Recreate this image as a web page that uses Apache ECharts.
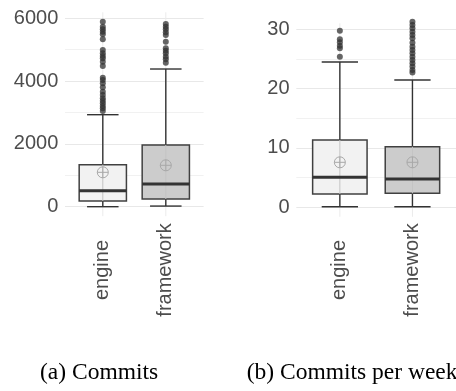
<!DOCTYPE html>
<html>
<head>
<meta charset="utf-8">
<script src="https://cdn.jsdelivr.net/npm/echarts@6/dist/echarts.min.js"></script>
<style>
  html, body { margin: 0; padding: 0; background: #fff; }
  #chart { width: 456px; height: 391px; }
</style>
</head>
<body>
<div id="chart"></div>
<script>
const categories = ['engine', 'framework']
const captions = ['(a) Commits', '(b) Commits per week']

// [lower whisker, Q1, median, Q3, upper whisker]
const commitsStats = [
  [0, 181, 510, 1338, 2930],
  [20, 245, 723, 1965, 4385],
]
const commitsMean = [1095, 1318]
const commitsOutEngine = [5892, 5733, 5649, 5574, 5490, 5330, 4990, 4884, 4799, 4725, 4619, 4481,
  4109, 4035, 3929, 3802, 3664, 3557, 3451, 3377, 3292, 3207, 3133, 3048]
const commitsOutFramework = [5818, 5733, 5649, 5553, 5468, 5256, 5043, 4969, 4884, 4778, 4693, 4587]

const weeklyStats = [
  [0.1, 2.24, 5.05, 11.34, 24.5],
  [0.1, 2.36, 4.77, 10.2, 21.45],
]
const weeklyMean = [7.58, 7.58]
const weeklyOutEngine = [29.77, 28.31, 27.8, 27.24, 26.8, 25.39]
const weeklyOutFramework = [31.29, 30.73, 30.17, 29.6, 29.04, 28.48, 27.75, 27.07, 26.51, 25.95,
  25.39, 24.83, 24.27, 23.71, 23.15, 22.7]

const commitsTicks = [0, 2000, 4000, 6000]
const weeklyTicks = [0, 10, 20, 30]

const chart = echarts.init(document.getElementById('chart'))

function boxData(stats, mean) {
  return stats.map((s, i) => [i + 1, ...s, mean[i]])
}

function outlierData(engine, framework) {
  return engine.map((v) => [1, v]).concat(framework.map((v) => [2, v]))
}

const fills = ['#f2f2f2', '#cccccc']

function renderBox(params, api) {
  const x = api.value(0)
  const unit = api.size([1, 0])[0]
  const half = unit * 0.375
  const cap = unit * 0.25
  const low = api.coord([x, api.value(1)])
  const q1 = api.coord([x, api.value(2)])
  const med = api.coord([x, api.value(3)])
  const q3 = api.coord([x, api.value(4)])
  const high = api.coord([x, api.value(5)])
  const mean = api.coord([x, api.value(6)])
  const cx = low[0]
  const r = 5.5
  const dark = { stroke: '#333', lineWidth: 1.4 }
  return {
    type: 'group',
    children: [
      // vertical grid line through the category
      { type: 'line', shape: { x1: cx, y1: params.coordSys.y - 6, x2: cx, y2: params.coordSys.y + params.coordSys.height + 9.5 }, style: { stroke: '#ebebeb', lineWidth: 1 }, z2: 0 },
      { type: 'line', shape: { x1: cx, y1: q3[1], x2: cx, y2: high[1] }, style: dark, z2: 1 },
      { type: 'line', shape: { x1: cx, y1: low[1], x2: cx, y2: q1[1] }, style: dark, z2: 1 },
      { type: 'line', shape: { x1: cx - cap, y1: high[1], x2: cx + cap, y2: high[1] }, style: dark, z2: 1 },
      { type: 'line', shape: { x1: cx - cap, y1: low[1], x2: cx + cap, y2: low[1] }, style: dark, z2: 1 },
      { type: 'rect', shape: { x: cx - half, y: q3[1], width: half * 2, height: q1[1] - q3[1] }, style: { fill: fills[x - 1], stroke: '#404040', lineWidth: 1.5 }, z2: 2 },
      { type: 'line', shape: { x1: cx, y1: q3[1], x2: cx, y2: q1[1] }, style: { stroke: '#c4c4c4', lineWidth: 1 }, z2: 3 },
      { type: 'line', shape: { x1: cx - half, y1: med[1], x2: cx + half, y2: med[1] }, style: { stroke: '#333', lineWidth: 3 }, z2: 4 },
      { type: 'circle', shape: { cx: cx, cy: mean[1], r: r }, style: { fill: 'none', stroke: '#a8a8a8', lineWidth: 1 }, z2: 5 },
      { type: 'line', shape: { x1: cx - r, y1: mean[1], x2: cx + r, y2: mean[1] }, style: { stroke: '#a8a8a8', lineWidth: 1 }, z2: 5 },
      { type: 'line', shape: { x1: cx, y1: mean[1] - r, x2: cx, y2: mean[1] + r }, style: { stroke: '#a8a8a8', lineWidth: 1 }, z2: 5 },
    ],
  }
}

function xAxisFor(idx, margin) {
  return {
    gridIndex: idx,
    type: 'value',
    min: 0.4,
    max: 2.6,
    axisLine: { show: false },
    axisTick: { show: false },
    splitLine: { show: false },
    axisLabel: {
      customValues: [1, 2],
      formatter: (v) => categories[Math.round(v) - 1],
      rotate: 90,
      align: 'center',
      verticalAlign: 'middle',
      margin: margin,
      fontSize: 20,
      color: '#4d4d4d',
      fontFamily: 'Liberation Sans',
    },
  }
}

function yAxisFor(idx, max, interval, ticks) {
  return {
    gridIndex: idx,
    type: 'value',
    min: 0,
    max: max,
    interval: interval,
    axisLine: { show: false },
    axisTick: { show: false },
    splitLine: { show: true, lineStyle: { color: ['#e8e8e8', '#f1f1f1'], width: 1 } },
    axisLabel: {
      formatter: (v) => (ticks.includes(v) ? String(v) : ''),
      margin: 6.7,
      fontSize: 20,
      color: '#4d4d4d',
      fontFamily: 'Liberation Sans',
    },
  }
}

chart.setOption({
  animation: false,
  grid: [
    { left: 65, width: 138.6, top: 18.3, height: 188.4 },
    { left: 296.3, width: 161.3, top: 29.3, height: 178 },
  ],
  xAxis: [xAxisFor(0, 63.3), xAxisFor(1, 62.7)],
  yAxis: [yAxisFor(0, 6000, 1000, commitsTicks), yAxisFor(1, 30, 5, weeklyTicks)],
  graphic: [
    { type: 'text', left: 40, top: 361, style: { text: captions[0], font: '23.5px "Liberation Serif"', fill: '#000' } },
    { type: 'text', left: 246.7, top: 361, style: { text: captions[1], font: '23.5px "Liberation Serif"', fill: '#000' } },
  ],
  series: [
    {
      type: 'custom', xAxisIndex: 0, yAxisIndex: 0, clip: false,
      renderItem: renderBox, data: boxData(commitsStats, commitsMean),
    },
    {
      type: 'custom', xAxisIndex: 1, yAxisIndex: 1, clip: false,
      renderItem: renderBox, data: boxData(weeklyStats, weeklyMean),
    },
    {
      type: 'scatter', xAxisIndex: 0, yAxisIndex: 0, clip: false, symbolSize: 6,
      itemStyle: { color: '#333', opacity: 0.75 },
      data: outlierData(commitsOutEngine, commitsOutFramework),
    },
    {
      type: 'scatter', xAxisIndex: 1, yAxisIndex: 1, clip: false, symbolSize: 6,
      itemStyle: { color: '#333', opacity: 0.75 },
      data: outlierData(weeklyOutEngine, weeklyOutFramework),
    },
  ],
})
</script>
</body>
</html>
